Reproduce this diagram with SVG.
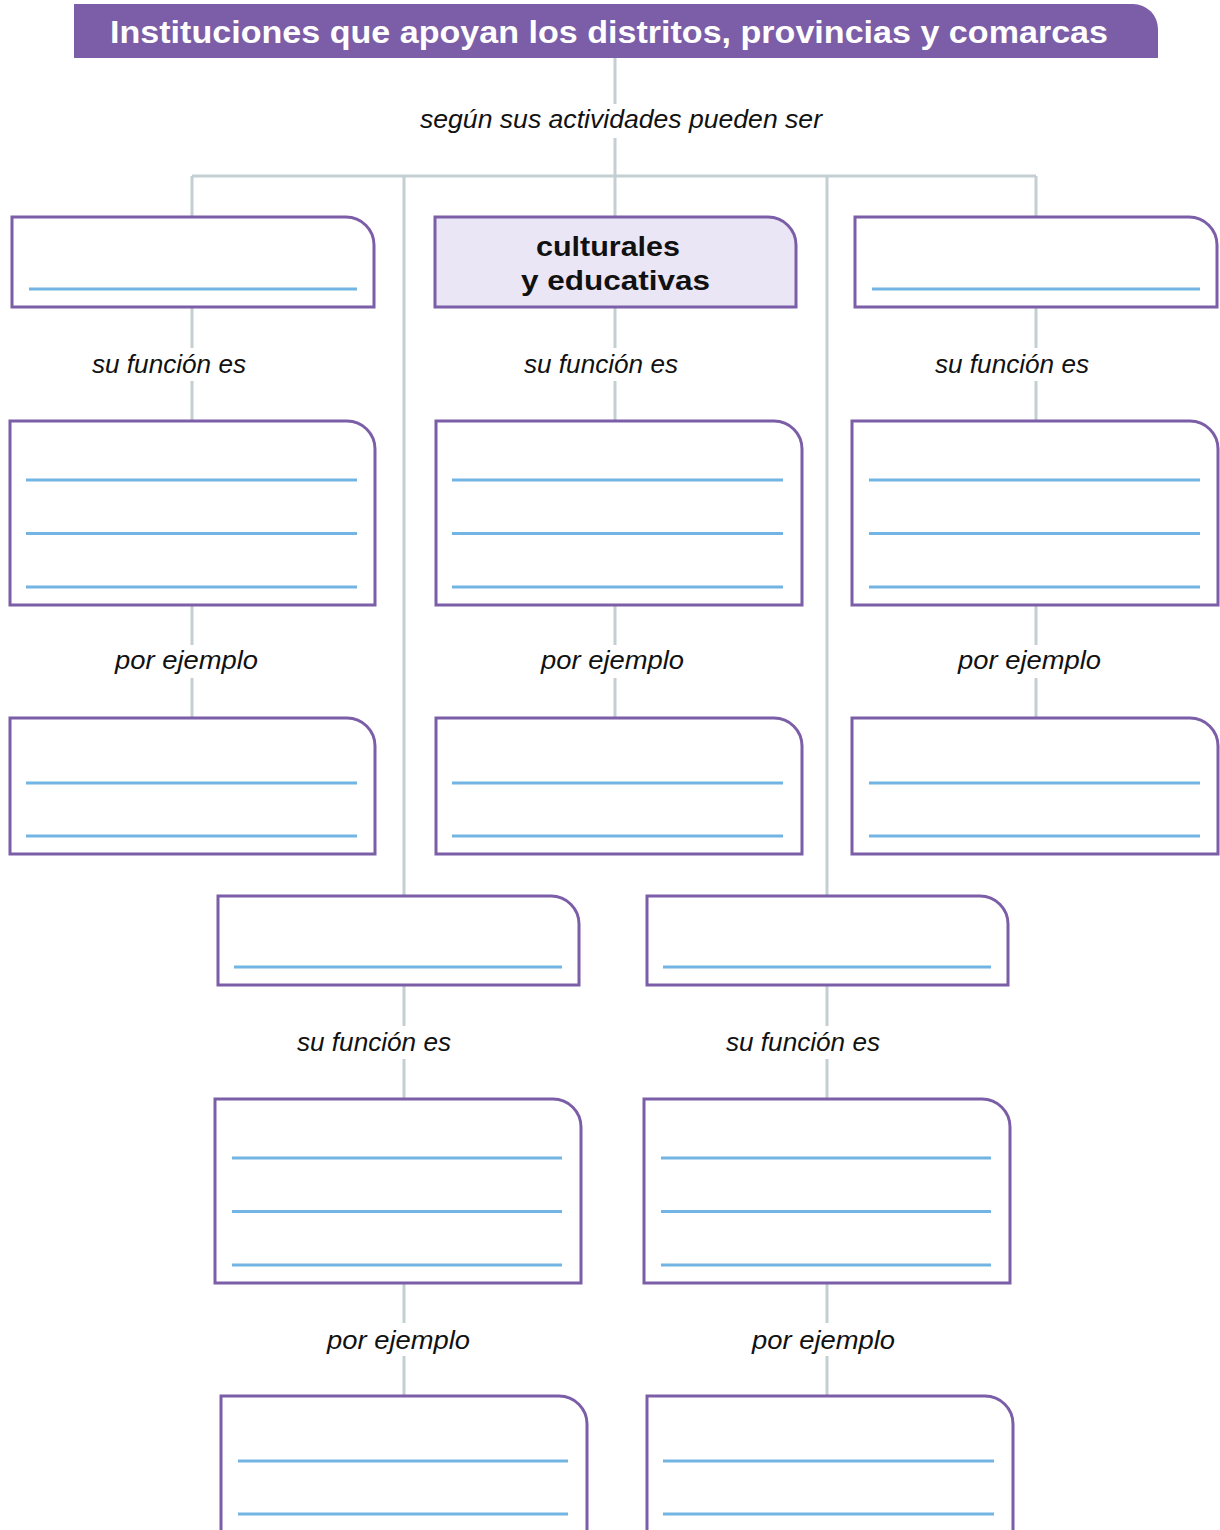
<svg xmlns="http://www.w3.org/2000/svg" width="1220" height="1530" viewBox="0 0 1220 1530">
<style>
.conn{stroke:#c3cfd3;stroke-width:3;fill:none}
.box{fill:#ffffff;stroke:#7b5ea7;stroke-width:3}
.box.hl{fill:#ebe6f5}
.ln{stroke:#72b5e4;stroke-width:3}
.lbl{font-family:"Liberation Sans",Arial,sans-serif;font-style:italic;font-size:26px;fill:#111111;text-anchor:middle}
.ttl{font-family:"Liberation Sans",Arial,sans-serif;font-weight:bold;font-size:32px;fill:#ffffff;text-anchor:middle}
.bt{font-family:"Liberation Sans",Arial,sans-serif;font-weight:bold;font-size:28px;fill:#111111;text-anchor:middle}
</style>
<rect width="1220" height="1530" fill="#ffffff"/>

<g id="connectors">
  <path class="conn" d="M615 58V104M615 138V176M192 176H1036M192 176V218M1036 176V218M615 176V218"/>
  <path class="conn" d="M404 176V897M827 176V897"/>
  <path class="conn" d="M192 307V348M192 381V421M615 307V348M615 381V421M1036 307V348M1036 381V421"/>
  <path class="conn" d="M192 605V645M192 678V718M615 605V645M615 678V718M1036 605V645M1036 678V718"/>
  <path class="conn" d="M404 985V1026M404 1059V1099M827 985V1026M827 1059V1099"/>
  <path class="conn" d="M404 1283V1323M404 1356V1396M827 1283V1323M827 1356V1396"/>
</g>

<g id="title">
  <path d="M74 4H1133A25 25 0 0 1 1158 29V58H74Z" fill="#7b5ea7"/>
  <text class="ttl" x="609" y="43" textLength="998" lengthAdjust="spacingAndGlyphs">Instituciones que apoyan los distritos, provincias y comarcas</text>
</g>

<g id="label-segun"><text class="lbl" x="621" y="128" textLength="402" lengthAdjust="spacingAndGlyphs">según sus actividades pueden ser</text></g>

<g id="box-1a"><path class="box" d="M12 217H346A28 28 0 0 1 374 245V307H12Z"/><line class="ln" x1="29" y1="289" x2="357" y2="289"/></g>
<g id="box-2a"><path class="box hl" d="M435 217H768A28 28 0 0 1 796 245V307H435Z"/>
  <text class="bt" x="608" y="256" textLength="144" lengthAdjust="spacingAndGlyphs">culturales</text><text class="bt" x="615.5" y="290" textLength="189" lengthAdjust="spacingAndGlyphs">y educativas</text></g>
<g id="box-3a"><path class="box" d="M855 217H1189A28 28 0 0 1 1217 245V307H855Z"/><line class="ln" x1="872" y1="289" x2="1200" y2="289"/></g>

<g id="label-f1"><text class="lbl" x="169" y="373" textLength="154" lengthAdjust="spacingAndGlyphs">su función es</text></g>
<g id="label-f2"><text class="lbl" x="601" y="373" textLength="154" lengthAdjust="spacingAndGlyphs">su función es</text></g>
<g id="label-f3"><text class="lbl" x="1012" y="373" textLength="154" lengthAdjust="spacingAndGlyphs">su función es</text></g>

<g id="box-1b"><path class="box" d="M10 421H347A28 28 0 0 1 375 449V605H10Z"/><path class="ln" d="M26 480H357M26 533.5H357M26 587H357"/></g>
<g id="box-2b"><path class="box" d="M436 421H774A28 28 0 0 1 802 449V605H436Z"/><path class="ln" d="M452 480H783M452 533.5H783M452 587H783"/></g>
<g id="box-3b"><path class="box" d="M852 421H1190A28 28 0 0 1 1218 449V605H852Z"/><path class="ln" d="M869 480H1200M869 533.5H1200M869 587H1200"/></g>

<g id="label-e1"><text class="lbl" x="186.5" y="669" textLength="143" lengthAdjust="spacingAndGlyphs">por ejemplo</text></g>
<g id="label-e2"><text class="lbl" x="612.5" y="669" textLength="143" lengthAdjust="spacingAndGlyphs">por ejemplo</text></g>
<g id="label-e3"><text class="lbl" x="1029.5" y="669" textLength="143" lengthAdjust="spacingAndGlyphs">por ejemplo</text></g>

<g id="box-1c"><path class="box" d="M10 718H347A28 28 0 0 1 375 746V854H10Z"/><path class="ln" d="M26 783H357M26 836H357"/></g>
<g id="box-2c"><path class="box" d="M436 718H774A28 28 0 0 1 802 746V854H436Z"/><path class="ln" d="M452 783H783M452 836H783"/></g>
<g id="box-3c"><path class="box" d="M852 718H1190A28 28 0 0 1 1218 746V854H852Z"/><path class="ln" d="M869 783H1200M869 836H1200"/></g>

<g id="box-4a"><path class="box" d="M218 896H551A28 28 0 0 1 579 924V985H218Z"/><line class="ln" x1="234" y1="967" x2="562" y2="967"/></g>
<g id="box-5a"><path class="box" d="M647 896H980A28 28 0 0 1 1008 924V985H647Z"/><line class="ln" x1="663" y1="967" x2="991" y2="967"/></g>

<g id="label-f4"><text class="lbl" x="374" y="1051" textLength="154" lengthAdjust="spacingAndGlyphs">su función es</text></g>
<g id="label-f5"><text class="lbl" x="803" y="1051" textLength="154" lengthAdjust="spacingAndGlyphs">su función es</text></g>

<g id="box-4b"><path class="box" d="M215 1099H553A28 28 0 0 1 581 1127V1283H215Z"/><path class="ln" d="M232 1158H562M232 1211.5H562M232 1265H562"/></g>
<g id="box-5b"><path class="box" d="M644 1099H982A28 28 0 0 1 1010 1127V1283H644Z"/><path class="ln" d="M661 1158H991M661 1211.5H991M661 1265H991"/></g>

<g id="label-e4"><text class="lbl" x="398.5" y="1349" textLength="143" lengthAdjust="spacingAndGlyphs">por ejemplo</text></g>
<g id="label-e5"><text class="lbl" x="823.5" y="1349" textLength="143" lengthAdjust="spacingAndGlyphs">por ejemplo</text></g>

<g id="box-4c"><path class="box" d="M221 1396H559A28 28 0 0 1 587 1424V1545H221Z"/><path class="ln" d="M238 1461H568M238 1514H568"/></g>
<g id="box-5c"><path class="box" d="M647 1396H985A28 28 0 0 1 1013 1424V1545H647Z"/><path class="ln" d="M663 1461H994M663 1514H994"/></g>
</svg>
